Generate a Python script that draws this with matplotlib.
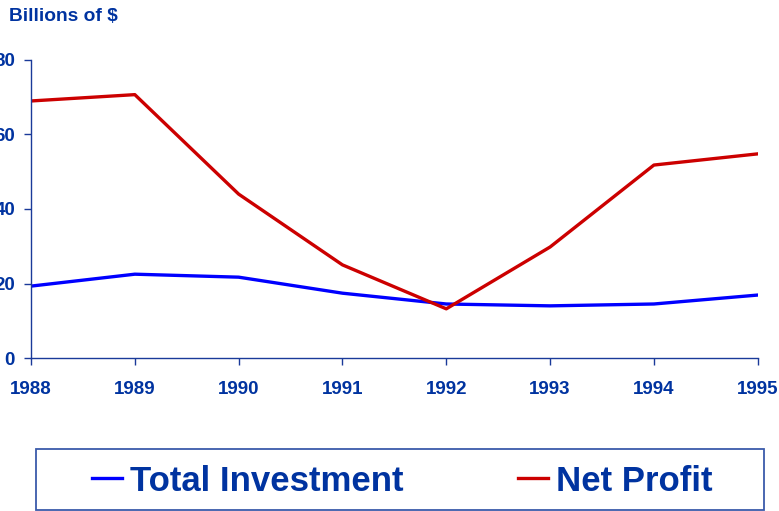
import matplotlib
matplotlib.use('Agg')
import matplotlib.pyplot as plt
from matplotlib.patches import Rectangle

# ── Data ──────────────────────────────────────────────────────────────
years = [1988, 1989, 1990, 1991, 1992, 1993, 1994, 1995]
total_investment = [19.3, 22.5, 21.7, 17.4, 14.5, 14.0, 14.5, 16.9]
net_profit = [69.0, 70.7, 44.0, 25.0, 13.2, 29.8, 51.8, 54.8]
y_ticks = [0, 20, 40, 60, 80]

NAVY = '#0033a0'
AXIS = '#1a3a99'

plt.rcParams['font.family'] = ['Liberation Sans', 'DejaVu Sans']
plt.rcParams['font.weight'] = 'bold'

fig = plt.figure(figsize=(7.79, 5.11), dpi=100)
ax = fig.add_axes([0.0398, 0.2994, 0.9329, 0.5832])

ax.plot(years, total_investment, color='#0000ff', lw=2.4,
        label='Total Investment')
ax.plot(years, net_profit, color='#cc0000', lw=2.4,
        label='Net Profit')

ax.set_xlim(years[0], years[-1])
ax.set_ylim(0, 80)
ax.set_xticks(years)
ax.set_yticks(y_ticks)

for side in ('top', 'right'):
    ax.spines[side].set_visible(False)
for side in ('left', 'bottom'):
    ax.spines[side].set_color(AXIS)
    ax.spines[side].set_linewidth(1.0)

ax.tick_params(axis='both', colors=AXIS, length=5, width=1.0,
               labelsize=13.5, direction='out')
ax.tick_params(axis='x', pad=11.5)
ax.tick_params(axis='y', pad=6.5)
for lbl in ax.get_xticklabels() + ax.get_yticklabels():
    lbl.set_fontweight('bold')
    lbl.set_color(NAVY)

fig.text(0.0115, 0.968, 'Billions of $', color=NAVY, fontsize=13.8,
         fontweight='bold', ha='left', va='center')

# ── Legend in a boxed strip under the axes ────────────────────────────
box_x0, box_y0, box_w, box_h = 0.0462, 0.002, 0.9345, 0.1193
fig.patches.append(Rectangle((box_x0, box_y0), box_w, box_h,
                             transform=fig.transFigure, fill=False,
                             edgecolor='#3a5aaa', linewidth=1.3))

leg = fig.legend(loc='center', ncol=2,
                 bbox_to_anchor=(box_x0 + box_w / 2 + 0.003,
                                 box_y0 + box_h / 2 - 0.003),
                 fontsize=25, handlelength=0.865, handletextpad=0.23,
                 columnspacing=3.3, borderaxespad=0, borderpad=0,
                 frameon=False)
for txt in leg.get_texts():
    txt.set_color(NAVY)
    txt.set_fontweight('bold')

fig.savefig('out.png', dpi=100)
